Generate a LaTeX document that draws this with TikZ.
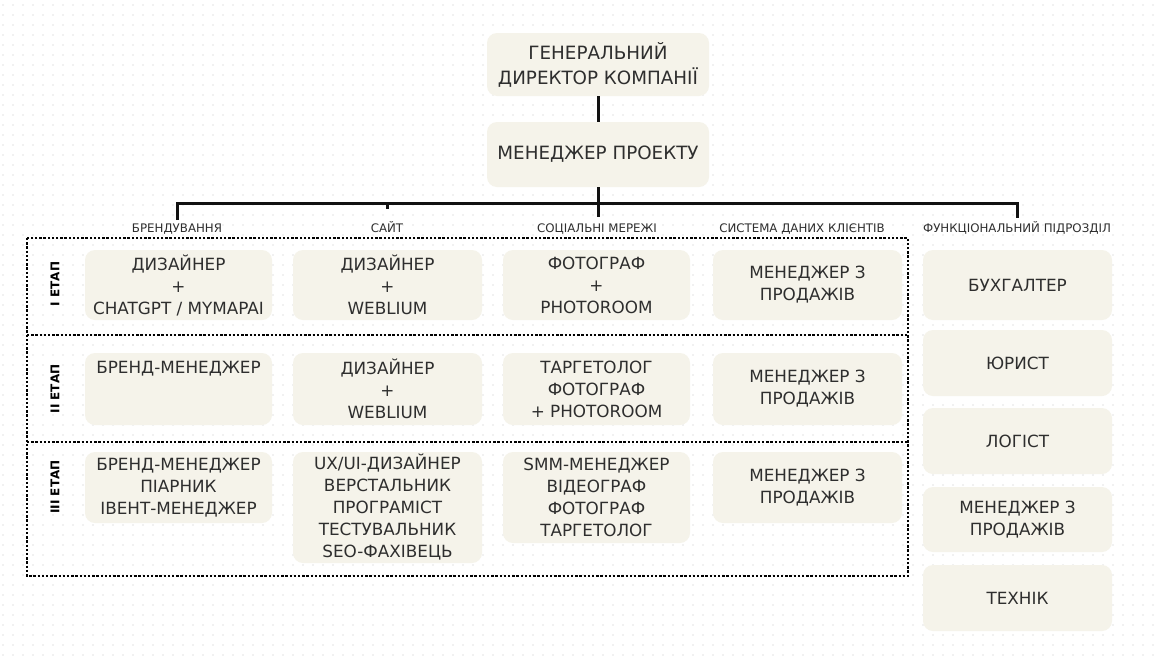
\documentclass[tikz,border=0pt]{standalone}
\usepackage{fontspec}
\setmainfont{DejaVu Sans}
\definecolor{cream}{HTML}{F5F3EA}
\definecolor{ink}{HTML}{2E2E2E}
\definecolor{griddot}{HTML}{E4E4E4}
\definecolor{wire}{HTML}{111111}
\begin{document}
\begin{tikzpicture}[x=1pt,y=-1pt,
  card/.style={fill=cream, rounded corners=10pt, align=center, text=ink,
    inner sep=0pt, font=\fontsize{16.8}{22}\selectfont},
  headcard/.style={card, minimum width=222, font=\fontsize{18.3}{25}\selectfont},
  catlabel/.style={text=ink, anchor=base, inner sep=0pt, font=\fontsize{11.8}{13}\selectfont},
  stagelabel/.style={text=black, rotate=90, inner sep=0pt, font=\fontsize{12}{13}\selectfont\bfseries},
  wireline/.style={draw=wire, line width=3pt},
  frameline/.style={draw=black, line width=2.8pt, dash pattern=on 2.4pt off 1.8pt},
  dotrow/.style={draw=griddot, line width=1.6pt, line cap=round, dash pattern=on 0pt off 10pt}]

% canvas
\fill[white] (0,0) rectangle (1158,659);
\useasboundingbox (0,0) rectangle (1158,659);

% dotted background grid, one dashed row per line of dots
\foreach \gy in {5,15,...,655}
  \draw[dotrow] (3,\gy) -- (1158,\gy);

% top of the hierarchy
\node[headcard, minimum height=63] (ceo) at (598,64.5) {ГЕНЕРАЛЬНИЙ\\ДИРЕКТОР КОМПАНІЇ};
\node[headcard, minimum height=65] (pm) at (598,154.5) {МЕНЕДЖЕР ПРОЕКТУ};

% branch bar coordinates
\coordinate (stem) at (598,217);
\coordinate (brandTop) at (177,203);
\coordinate (brandEnd) at (177,220);
\coordinate (siteTop) at (387,203);
\coordinate (siteEnd) at (387,209);
\coordinate (funcTop) at (1017,203);
\coordinate (funcEnd) at (1017,218);

\draw[wireline] (ceo.south) -- (pm.north);
\draw[wireline] (pm.south) -- (stem);
\draw[wireline] (brandEnd) -- (brandTop) -- (funcTop) -- (funcEnd);
\draw[wireline] (siteTop) -- (siteEnd);

% column captions
\node[catlabel] (capBrand) at (177,232) {БРЕНДУВАННЯ};
\node[catlabel] (capSite) at (387,232) {САЙТ};
\node[catlabel] (capSocial) at (597,232) {СОЦІАЛЬНІ МЕРЕЖІ};
\node[catlabel] (capData) at (802,232) {СИСТЕМА ДАНИХ КЛІЄНТІВ};
\node[catlabel] (capFunc) at (1017,232) {ФУНКЦІОНАЛЬНИЙ ПІДРОЗДІЛ};

% stage frame
\draw[frameline] (27,238) rectangle (908,576);
\draw[frameline] (27,335) -- (908,335);
\draw[frameline] (27,442) -- (908,442);

\node[stagelabel] (st1) at (55,284) {I ЕТАП};
\node[stagelabel] (st2) at (55,389) {II ЕТАП};
\node[stagelabel] (st3) at (55,487) {III ЕТАП};

% stage I
\node[card, minimum width=187, minimum height=70] (b11) at (178.5,285) {ДИЗАЙНЕР\\+\\CHATGPT / MYMAPAI};
\node[card, minimum width=189, minimum height=70] (b12) at (387.5,285) {ДИЗАЙНЕР\\+\\WEBLIUM};
\node[card, minimum width=187, minimum height=70] (b13) at (596.5,285) {ФОТОГРАФ\\+\\PHOTOROOM};
\node[card, minimum width=189, minimum height=70] (b14) at (807.5,285) {МЕНЕДЖЕР З\\ПРОДАЖІВ};

% stage II
\node[card, minimum width=187, minimum height=72] (b21) at (178.5,389) {БРЕНД-МЕНЕДЖЕР\\\mbox{}\\\mbox{}};
\node[card, minimum width=189, minimum height=72] (b22) at (387.5,389) {ДИЗАЙНЕР\\+\\WEBLIUM};
\node[card, minimum width=187, minimum height=72] (b23) at (596.5,389) {ТАРГЕТОЛОГ\\ФОТОГРАФ\\+ PHOTOROOM};
\node[card, minimum width=189, minimum height=72] (b24) at (807.5,389) {МЕНЕДЖЕР З\\ПРОДАЖІВ};

% stage III
\node[card, minimum width=187, minimum height=71] (b31) at (178.5,487.5) {БРЕНД-МЕНЕДЖЕР\\ПІАРНИК\\ІВЕНТ-МЕНЕДЖЕР};
\node[card, minimum width=189, minimum height=111] (b32) at (387.5,507.5) {UX/UI-ДИЗАЙНЕР\\ВЕРСТАЛЬНИК\\ПРОГРАМІСТ\\ТЕСТУВАЛЬНИК\\SEO-ФАХІВЕЦЬ};
\node[card, minimum width=187, minimum height=91] (b33) at (596.5,497.5) {SMM-МЕНЕДЖЕР\\ВІДЕОГРАФ\\ФОТОГРАФ\\ТАРГЕТОЛОГ};
\node[card, minimum width=189, minimum height=71] (b34) at (807.5,487.5) {МЕНЕДЖЕР З\\ПРОДАЖІВ};

% functional unit
\node[card, minimum width=189, minimum height=70] (f1) at (1017.5,285) {БУХГАЛТЕР};
\node[card, minimum width=189, minimum height=66] (f2) at (1017.5,363) {ЮРИСТ};
\node[card, minimum width=189, minimum height=66] (f3) at (1017.5,441) {ЛОГІСТ};
\node[card, minimum width=189, minimum height=65] (f4) at (1017.5,519.5) {МЕНЕДЖЕР З\\ПРОДАЖІВ};
\node[card, minimum width=189, minimum height=66] (f5) at (1017.5,598) {ТЕХНІК};
\end{tikzpicture}
\end{document}
